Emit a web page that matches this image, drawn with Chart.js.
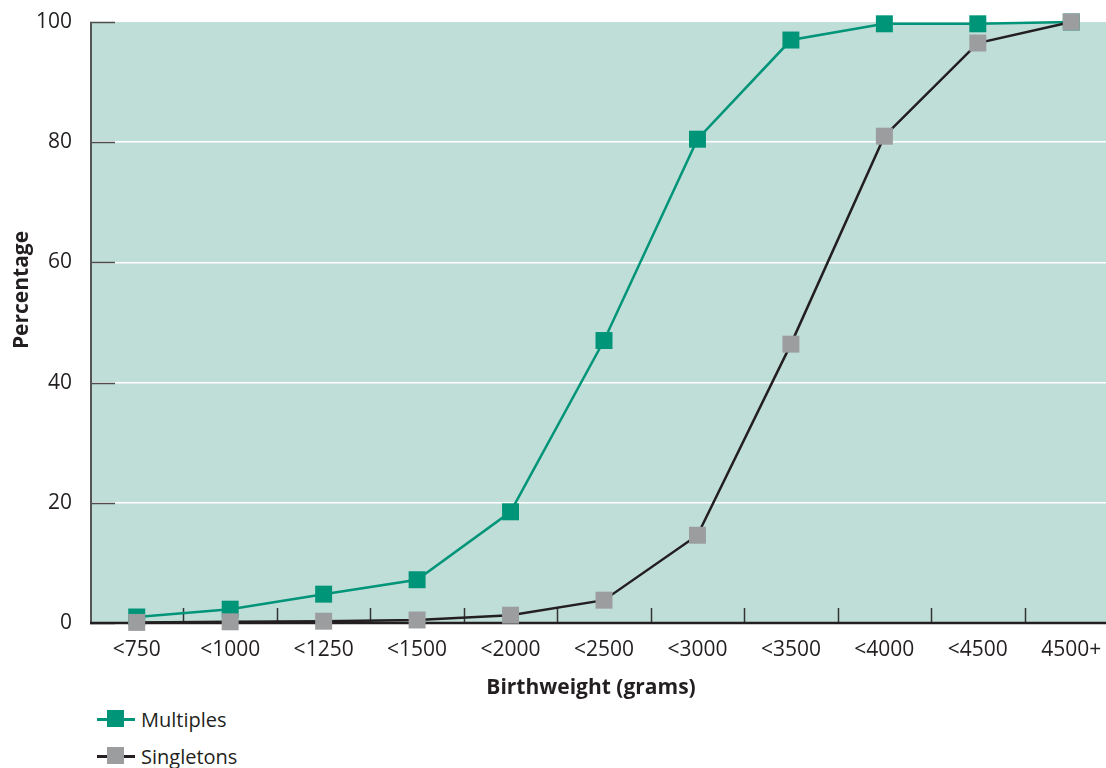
<!DOCTYPE html>
<html>
<head>
<meta charset="utf-8">
<script src="https://cdn.jsdelivr.net/npm/chart.js@4/dist/chart.umd.min.js"></script>
<style>
  html, body { margin: 0; padding: 0; background: #ffffff; overflow: hidden; width: 1106px; height: 768px; }
  #wrap { position: absolute; left: 0; top: 0; width: 1130px; height: 700px; }
  .legend { position: absolute; left: 97px; font-family: "Open Sans", sans-serif; font-size: 20px; color: #231f20; display: flex; align-items: center; height: 24px; }
  .icon { position: relative; width: 38px; height: 24px; margin-right: 6px; }
  .icon .ln { position: absolute; left: 0; right: 0; top: 11px; height: 3px; }
  .icon .sq { position: absolute; left: 10px; top: 3px; width: 17px; height: 17px; }
</style>
</head>
<body>
<div id="wrap"><canvas id="c" width="1130" height="700"></canvas></div>
<div class="legend" style="top:707px;"><div class="icon"><div class="ln" style="background:#009479"></div><div class="sq" style="background:#009479"></div></div>Multiples</div>
<div class="legend" style="top:744px;"><div class="icon"><div class="ln" style="background:#231f20"></div><div class="sq" style="background:#9b9d9e"></div></div>Singletons</div>
<script>
const categories = ['<750', '<1000', '<1250', '<1500', '<2000', '<2500', '<3000', '<3500', '<4000', '<4500', '4500+'];
const multiples = [1.0, 2.3, 4.8, 7.2, 18.5, 47.0, 80.5, 97.0, 99.7, 99.7, 100];
const singletons = [0.1, 0.2, 0.3, 0.5, 1.3, 3.8, 14.6, 46.4, 81.0, 96.5, 100];
const yTicks = [0, 20, 40, 60, 80, 100];
const xTitle = 'Birthweight (grams)';
const yTitle = 'Percentage';

const FONT = '"Open Sans", sans-serif';
const TEAL = '#009479';
const GREY = '#9b9d9e';
const DARK = '#231f20';

const decor = {
  id: 'decor',
  beforeDraw(chart) {
    const {ctx, chartArea: a} = chart;
    ctx.save();
    ctx.fillStyle = '#c0ded8';
    ctx.fillRect(a.left, a.top, a.right - a.left, a.bottom - a.top);
    ctx.restore();
  },
  beforeDatasetsDraw(chart) {
    const {ctx, chartArea: a, scales: {x, y}} = chart;
    ctx.save();
    ctx.strokeStyle = '#4d4d4d';
    ctx.lineWidth = 1.5;
    yTicks.forEach(v => {
      const py = Math.round(y.getPixelForValue(v)) + 0.5;
      ctx.beginPath(); ctx.moveTo(a.left, py); ctx.lineTo(a.left + 25, py); ctx.stroke();
    });
    const step = x.getPixelForValue(1) - x.getPixelForValue(0);
    ctx.strokeStyle = '#333333';
    for (let i = 1; i < categories.length; i++) {
      const px = Math.round(x.getPixelForValue(i) - step / 2) + 0.5;
      ctx.beginPath(); ctx.moveTo(px, a.bottom); ctx.lineTo(px, a.bottom - 15); ctx.stroke();
    }
    ctx.strokeStyle = '#555555';
    ctx.lineWidth = 2;
    ctx.beginPath(); ctx.moveTo(a.left + 1, a.top); ctx.lineTo(a.left + 1, a.bottom); ctx.stroke();
    ctx.strokeStyle = DARK;
    ctx.lineWidth = 2.5;
    ctx.beginPath(); ctx.moveTo(a.left, a.bottom); ctx.lineTo(a.right, a.bottom); ctx.stroke();
    ctx.restore();
  },
  afterDraw(chart) {
    const {ctx} = chart;
    ctx.save();
    ctx.font = 'bold 21px ' + FONT;
    ctx.fillStyle = DARK;
    ctx.textAlign = 'center';
    ctx.textBaseline = 'middle';
    ctx.fillText(xTitle, 591, 688);
    ctx.translate(22, 290);
    ctx.rotate(-Math.PI / 2);
    ctx.fillText(yTitle, 0, 0);
    ctx.restore();
  }
};

new Chart(document.getElementById('c'), {
  type: 'line',
  data: {
    labels: categories,
    datasets: [
      {
        label: 'Singletons',
        data: singletons,
        borderColor: DARK,
        borderWidth: 2.5,
        backgroundColor: GREY,
        pointStyle: 'rect',
        pointRadius: 12,
        pointBorderWidth: 0,
        pointBackgroundColor: GREY,
        tension: 0,
        clip: false
      },
      {
        label: 'Multiples',
        data: multiples,
        borderColor: TEAL,
        borderWidth: 2.5,
        backgroundColor: TEAL,
        pointStyle: 'rect',
        pointRadius: 12,
        pointBorderWidth: 0,
        pointBackgroundColor: TEAL,
        tension: 0,
        clip: false
      }
    ]
  },
  options: {
    responsive: false,
    animation: false,
    devicePixelRatio: 1,
    layout: { padding: { top: 22, right: 1, left: 0, bottom: 0 } },
    plugins: { legend: { display: false }, tooltip: { enabled: false }, title: { display: false } },
    scales: {
      x: {
        type: 'category',
        offset: true,
        grid: { display: false, drawTicks: false },
        border: { display: false },
        ticks: { color: DARK, font: { family: FONT, size: 21 }, padding: 14, maxRotation: 0, autoSkip: false },
        title: { display: false },
        afterFit(s) { s.height = 77; s.paddingLeft = 0; s.paddingRight = 0; }
      },
      y: {
        min: 0, max: 100,
        afterBuildTicks(s) { s.ticks = yTicks.map(v => ({ value: v })); },
        grid: {
          drawTicks: false,
          lineWidth: 1.5,
          color: c => (c.tick && (c.tick.value === 0 || c.tick.value === 100)) ? 'rgba(0,0,0,0)' : '#ffffff'
        },
        border: { display: false },
        ticks: { color: DARK, font: { family: FONT, size: 21 }, padding: 18 },
        afterFit(s) { s.width = 90; s.paddingTop = 0; s.paddingBottom = 0; }
      }
    }
  },
  plugins: [decor]
});
</script>
</body>
</html>
